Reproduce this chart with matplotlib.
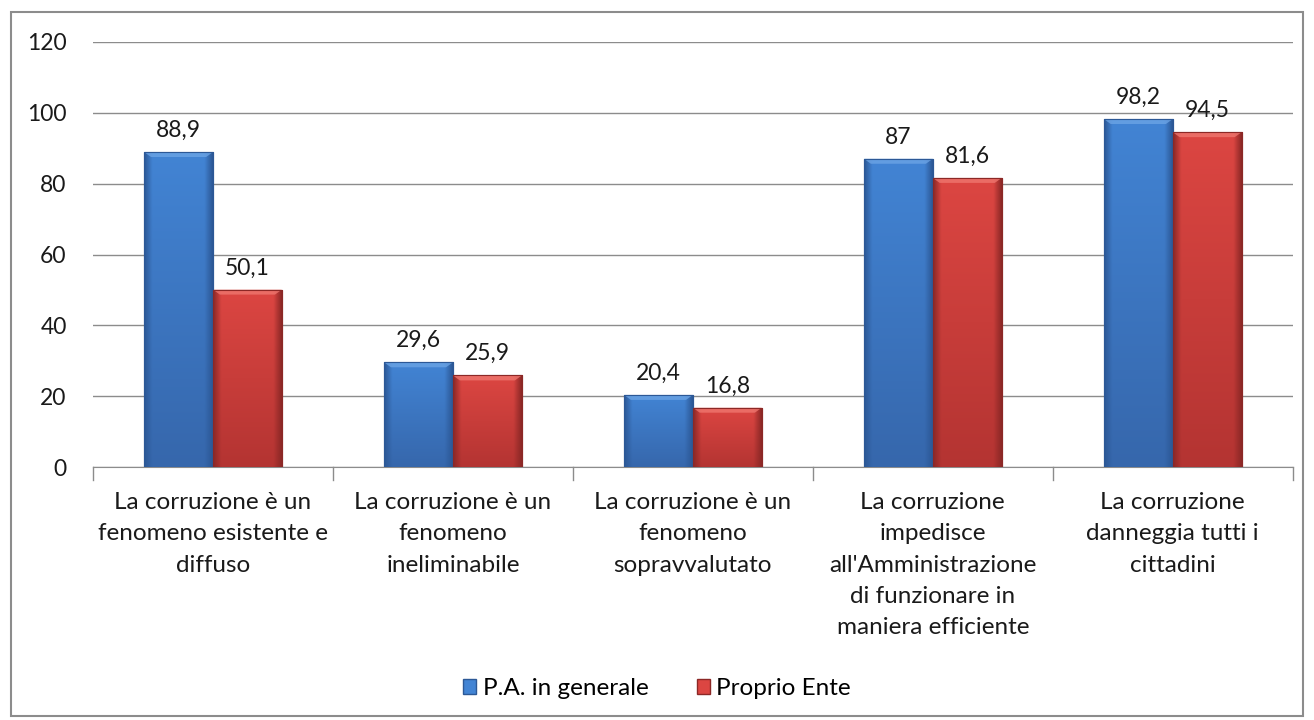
import numpy as np
import matplotlib.pyplot as plt
from matplotlib.patches import Rectangle, Patch, Polygon
from matplotlib.colors import to_rgb

plt.rcParams['font.family'] = ['Lato', 'DejaVu Sans']

categories = [
    "La corruzione è un\nfenomeno esistente e\ndiffuso",
    "La corruzione è un\nfenomeno\nineliminabile",
    "La corruzione è un\nfenomeno\nsopravvalutato",
    "La corruzione\nimpedisce\nall'Amministrazione\ndi funzionare in\nmaniera efficiente",
    "La corruzione\ndanneggia tutti i\ncittadini",
]
pa_generale = [88.9, 29.6, 20.4, 87, 98.2]
proprio_ente = [50.1, 25.9, 16.8, 81.6, 94.5]
labels_pa = ["88,9", "29,6", "20,4", "87", "98,2"]
labels_ente = ["50,1", "25,9", "16,8", "81,6", "94,5"]
series_names = ["P.A. in generale", "Proprio Ente"]

# (edge, centre-top, centre-bottom, bevel)
blue = ["#2c5896", "#4284d4", "#3667ac", "#6ea6e6"]
red = ["#8c2826", "#dc4642", "#b43432", "#f07a72"]

fig = plt.figure(figsize=(13.14, 7.2), dpi=100)
fig.patches.append(Rectangle((0.008, 0.006), 0.984, 0.977, transform=fig.transFigure,
                             fill=False, edgecolor="#8c8c8c", linewidth=1.5))
ax = fig.add_axes([0.0708, 0.351, 0.913, 0.591])

x = np.arange(len(categories))
w = 0.287


def shaded_bars(xs, vals, cols):
    edge, top, bot, bev = [np.array(to_rgb(c)) for c in cols]
    u = np.linspace(0, 1, 80)
    side = np.clip(np.minimum(u, 1 - u) / 0.12, 0, 1)[None, :, None]
    v = np.linspace(1, 0, 120)[:, None, None]
    centre = bot + (top - bot) * v
    bars = ax.bar(xs, vals, w, color=cols[1], edgecolor=edge, linewidth=0.8, zorder=2)
    for b in bars:
        bx, by = b.get_x(), b.get_y()
        bw, bh = b.get_width(), b.get_height()
        img = edge * (1 - side) + centre * side
        im = ax.imshow(img, aspect="auto", extent=[bx, bx + bw, by, by + bh],
                       zorder=3, interpolation="bilinear")
        im.set_clip_path(b)
        d = 1.4
        dx = bw * 0.1
        ax.add_patch(Polygon([(bx, by + bh), (bx + bw, by + bh), (bx + bw - dx, by + bh - d),
                              (bx + dx, by + bh - d)], closed=True, facecolor=bev,
                             edgecolor="none", alpha=0.75, zorder=4))
        ax.add_patch(Rectangle((bx, by), bw, bh, fill=False, edgecolor=edge,
                               linewidth=0.8, zorder=5))
    return bars


b1 = shaded_bars(x - w / 2, pa_generale, blue)
b2 = shaded_bars(x + w / 2, proprio_ente, red)

for xs, vals, labs in [(x - w / 2, pa_generale, labels_pa), (x + w / 2, proprio_ente, labels_ente)]:
    for xi, v, lab in zip(xs, vals, labs):
        ax.annotate(lab, (xi, v), xytext=(0, 8), textcoords="offset points",
                    ha="center", va="bottom", fontsize=16.5, color="#1a1a1a")

ax.set_xlim(-0.5, len(categories) - 0.5)
ax.set_ylim(0, 120)
ax.set_yticks(range(0, 121, 20))
ax.yaxis.grid(True, color="#8c8c8c", linewidth=1)
ax.set_axisbelow(True)
for s in ["top", "right", "left"]:
    ax.spines[s].set_visible(False)
ax.spines["bottom"].set_color("#8c8c8c")
ax.tick_params(axis="y", length=0, labelsize=16.5, pad=19, colors="#1a1a1a")
ax.set_xticks(x)
ax.set_xticklabels(categories, fontsize=17.5, linespacing=1.6, color="#1a1a1a")
ax.tick_params(axis="x", length=0, pad=18)
for xm in np.arange(-0.5, len(categories), 1):
    ax.plot([xm, xm], [0, -3.5], color="#8c8c8c", lw=1, clip_on=False, zorder=1)

handles = [Patch(facecolor=blue[1], edgecolor=blue[0]), Patch(facecolor=red[1], edgecolor=red[0])]
fig.legend(handles, series_names, loc="center", bbox_to_anchor=(0.5, 0.044), ncol=2,
           frameon=False, fontsize=17.5, handlelength=0.55, handleheight=0.55,
           handletextpad=0.25, columnspacing=2.0)

fig.savefig("out.png", dpi=100)
